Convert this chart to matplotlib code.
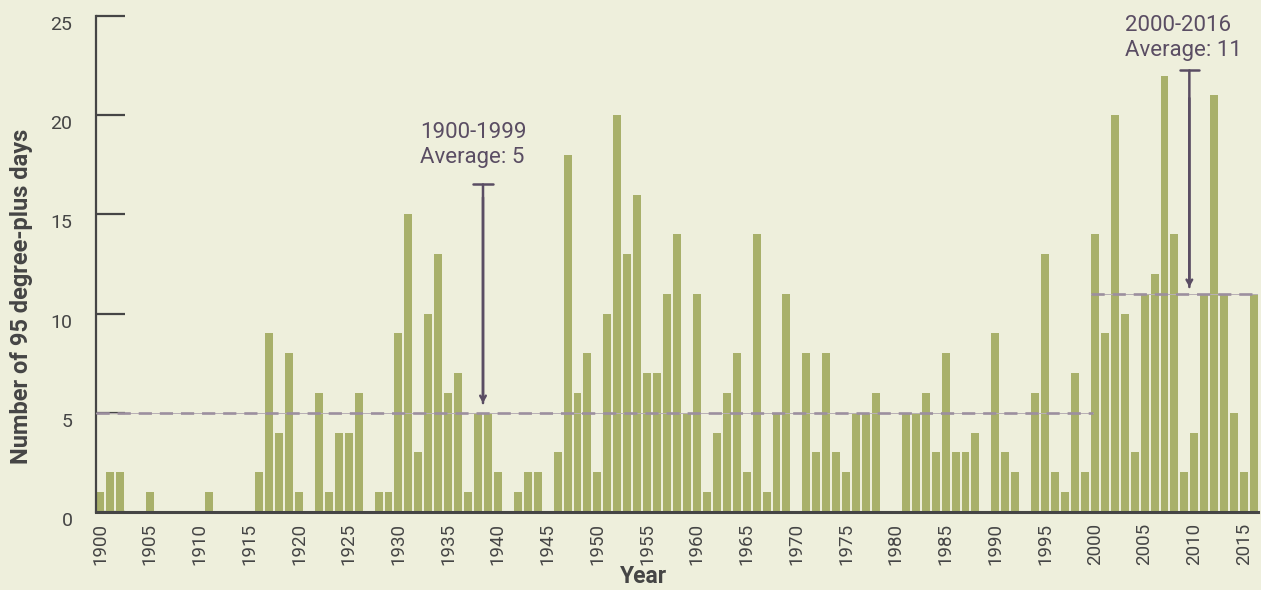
import numpy as np
from matplotlib import pyplot as plt

years = list(range(1900, 2017))
days = [
    1, 2, 2, 0, 0, 1, 0, 0, 0, 0,      # 1900s
    0, 1, 0, 0, 0, 0, 2, 9, 4, 8,      # 1910s
    1, 0, 6, 1, 4, 4, 6, 0, 1, 1,      # 1920s
    9, 15, 3, 10, 13, 6, 7, 1, 5, 5,   # 1930s
    2, 0, 1, 2, 2, 0, 3, 18, 6, 8,     # 1940s
    2, 10, 20, 13, 16, 7, 7, 11, 14, 5,  # 1950s
    11, 1, 4, 6, 8, 2, 14, 1, 5, 11,   # 1960s
    0, 8, 3, 8, 3, 2, 5, 5, 6, 0,      # 1970s
    0, 5, 5, 6, 3, 8, 3, 3, 4, 0,      # 1980s
    9, 3, 2, 0, 6, 13, 2, 1, 7, 2,     # 1990s
    14, 9, 20, 10, 3, 11, 12, 22, 14, 2,  # 2000s
    4, 11, 21, 11, 5, 2, 11,           # 2010s
]
xtick_years = list(range(1900, 2016, 5))
yticks = [0, 5, 10, 15, 20, 25]
avg_old = 5
avg_new = 11

BG = '#eeefdc'
BAR = '#a8b06a'
AXIS = '#454545'
DASH = '#9c8f9f'
NOTE = '#5a4d63'

plt.rcParams['font.family'] = ['Roboto', 'DejaVu Sans']

fig = plt.figure(figsize=(12.61, 5.90), dpi=100, facecolor=BG)
ax = fig.add_axes([96 / 1261, 78 / 590, 1162 / 1261, 496 / 590])
ax.set_facecolor(BG)

ax.bar(years, days, width=0.8, color=BAR, zorder=2)

# averages: thin solid line under the dashes
for x0, x1, v in [(1899.6, 1999.8, avg_old), (1999.6, 2016.4, avg_new)]:
    ax.plot([x0, x1], [v, v], color='#b8b0b4', lw=0.7, zorder=3)
    ax.plot([x0, x1], [v, v], color=DASH, lw=1.9, dashes=(5, 3), zorder=3)

ax.set_xlim(1899.6, 2016.4)
ax.set_ylim(0, 25)

for s in ['top', 'right']:
    ax.spines[s].set_visible(False)
ax.spines['left'].set_color(AXIS)
ax.spines['left'].set_linewidth(1.6)
ax.spines['bottom'].set_color(AXIS)
ax.spines['bottom'].set_linewidth(2.2)
ax.spines['bottom'].set_zorder(4)

ax.set_yticks(yticks)
ax.set_yticklabels([str(v) for v in yticks], fontsize=14, color=AXIS)
ax.tick_params(axis='y', direction='in', length=21, width=1.6, color=AXIS, pad=17)
for lab in ax.get_yticklabels():
    lab.set_va('top')

ax.set_xticks(xtick_years)
ax.set_xticklabels([str(y) for y in xtick_years], rotation=90, fontsize=13.5, color=AXIS)
ax.tick_params(axis='x', length=0, pad=8)

ax.set_ylabel('Number of 95 degree-plus days', fontsize=17, fontweight='bold',
              color=AXIS)
ax.yaxis.set_label_coords(-0.054, 0.435)
ax.set_xlabel('Year', fontsize=16.5, fontweight='bold', color=AXIS)
ax.xaxis.label.set_va('bottom')
ax.xaxis.set_label_coords(0.4716, -0.154)

# annotations
ax.text(1932.2, 17.35, '1900-1999\nAverage: 5', ha='left', va='bottom',
        fontsize=16, color=NOTE, linespacing=1.25)
ax.annotate('', xy=(1938.5, 5.35), xytext=(1938.5, 16.65),
            arrowprops=dict(arrowstyle='|-|,widthA=0.7,widthB=0.0', color=NOTE, lw=1.8),
            zorder=5)
ax.annotate('', xy=(1938.5, 5.35), xytext=(1938.5, 16.0),
            arrowprops=dict(arrowstyle='->,head_length=0.35,head_width=0.2', color=NOTE, lw=1.8),
            zorder=5)

ax.text(2003.0, 22.75, '2000-2016\nAverage: 11', ha='left', va='bottom',
        fontsize=16, color=NOTE, linespacing=1.25)
ax.annotate('', xy=(2009.5, 11.2), xytext=(2009.5, 22.4),
            arrowprops=dict(arrowstyle='|-|,widthA=0.7,widthB=0.0', color=NOTE, lw=1.8),
            zorder=5)
ax.annotate('', xy=(2009.5, 11.2), xytext=(2009.5, 21.0),
            arrowprops=dict(arrowstyle='->,head_length=0.35,head_width=0.2', color=NOTE, lw=1.8),
            zorder=5)

fig.savefig('out.png', dpi=100, facecolor=BG)
